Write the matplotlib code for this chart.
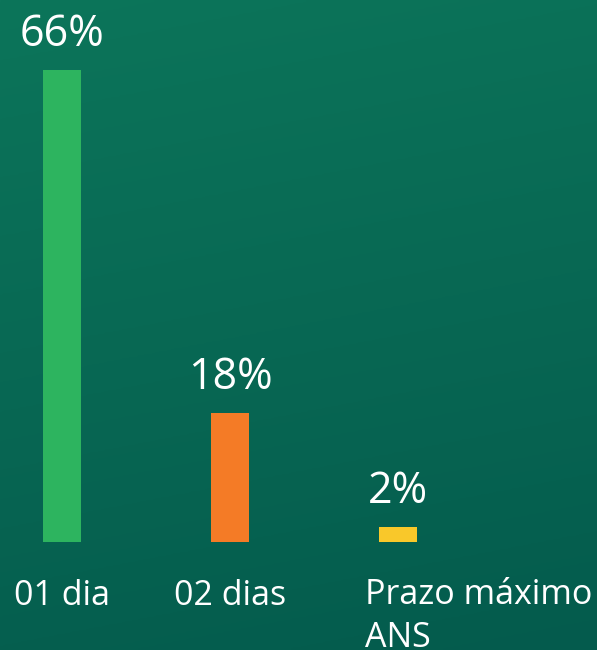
import numpy as np
import matplotlib
matplotlib.use("Agg")
import matplotlib.pyplot as plt

# chart data
categories = ["01 dia", "02 dias", "Prazo máximo\nANS"]
values = [66, 18, 2]
value_labels = ["66%", "18%", "2%"]
bar_colors = ["#2db45f", "#f47b26", "#f9c82a"]

plt.rcParams["font.family"] = ["Open Sans", "DejaVu Sans"]

W, H = 597, 650
fig = plt.figure(figsize=(W / 100, H / 100), dpi=100)

# gradient background
bg = fig.add_axes([0, 0, 1, 1])
top = np.array([12, 117, 90]) / 255
bottom = np.array([4, 91, 77]) / 255
yy, xx = np.mgrid[0:1:200j, 0:1:200j]
t = np.clip(0.85 * yy + 0.15 * xx, 0, 1)[..., None]
grad = top * (1 - t) + bottom * t
bg.imshow(grad, aspect="auto", extent=[0, 1, 0, 1], origin="upper")
bg.set_axis_off()

# bar axes: zero at y=541.5px, 66 at y=70px
ax = fig.add_axes([0, (H - 541.5) / H, 1, (541.5 - 70) / H])
ax.patch.set_alpha(0)
spacing = 168
ax.set_xlim(-62 / spacing, (W - 62) / spacing)
ax.set_ylim(0, 66)
x = np.arange(len(categories))
ax.bar(x, values, width=38 / spacing, color=bar_colors)
ax.set_axis_off()

for i, (v, lab) in enumerate(zip(values, value_labels)):
    ax.annotate(lab, (i, v), xytext=(0, 17.3), textcoords="offset points",
                ha="center", va="baseline", color="white", fontsize=31)

for i, cat in enumerate(categories):
    if "\n" in cat:
        # baseline refers to the last line here
        ax.annotate(cat, (i, 0), xytext=(-23.8, -76), textcoords="offset points",
                    ha="left", va="baseline", color="white", fontsize=24.5,
                    linespacing=1.34, annotation_clip=False)
    else:
        ax.annotate(cat, (i, 0), xytext=(0, -45.7), textcoords="offset points",
                    ha="center", va="baseline", color="white", fontsize=24.5)

fig.savefig("out.png", dpi=100)
